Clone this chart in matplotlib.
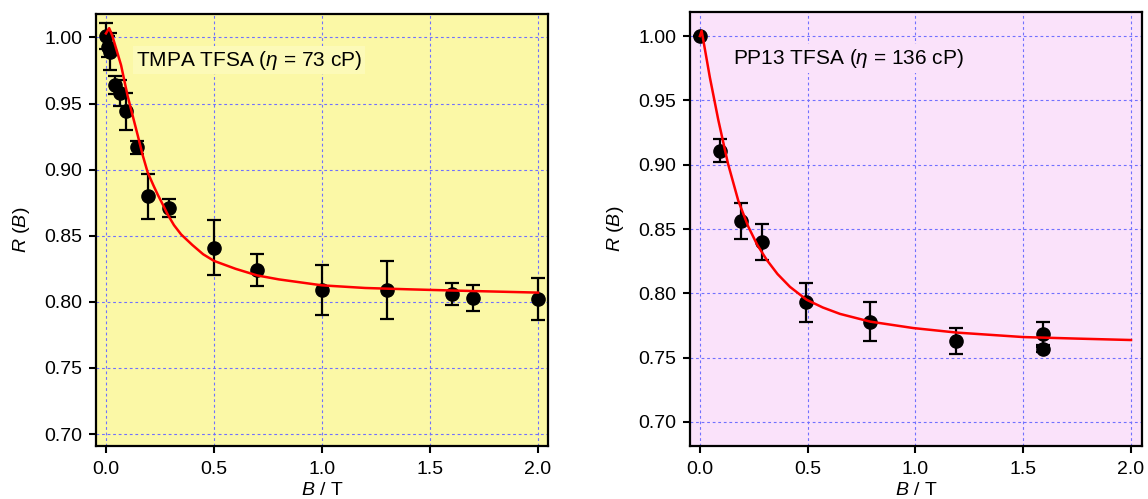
import matplotlib.pyplot as plt
import numpy as np

plt.rcParams['font.family'] = ['Liberation Sans', 'DejaVu Sans']
plt.rcParams['mathtext.fontset'] = 'custom'
plt.rcParams['mathtext.rm'] = 'Liberation Sans'
plt.rcParams['mathtext.it'] = 'Liberation Sans:italic'

# TMPA TFSA data
b_tmpa = [0.0, 0.01, 0.02, 0.04, 0.065, 0.093, 0.145, 0.193, 0.293, 0.5, 0.7, 1.0, 1.3, 1.6, 1.7, 2.0]
r_tmpa = [1.001, 0.993, 0.989, 0.964, 0.958, 0.944, 0.917, 0.880, 0.871, 0.841, 0.824, 0.809, 0.809, 0.806, 0.803, 0.802]
e_tmpa = [0.010, 0.008, 0.014, 0.007, 0.010, 0.014, 0.005, 0.017, 0.007, 0.021, 0.012, 0.019, 0.022, 0.008, 0.010, 0.016]
fit_b_tmpa = [0.0, 0.015, 0.03, 0.05, 0.07, 0.1, 0.125, 0.147, 0.17, 0.193, 0.22, 0.24, 0.265, 0.286, 0.315,
              0.348, 0.4, 0.45, 0.5, 0.6, 0.7, 0.8, 1.0, 1.2, 1.4, 1.6, 1.8, 2.0]
fit_r_tmpa = [1.003, 1.007, 1.001, 0.990, 0.979, 0.956, 0.940, 0.926, 0.911, 0.898, 0.888, 0.881, 0.873, 0.866, 0.858,
              0.851, 0.843, 0.836, 0.831, 0.825, 0.820, 0.817, 0.8125, 0.8105, 0.8095, 0.8086, 0.8078, 0.807]

# PP13 TFSA data
b_pp13 = [0.0, 0.093, 0.189, 0.29, 0.49, 0.79, 1.19, 1.59, 1.59]
r_pp13 = [1.000, 0.911, 0.856, 0.840, 0.793, 0.778, 0.763, 0.768, 0.757]
e_pp13 = [0.0, 0.009, 0.014, 0.014, 0.015, 0.015, 0.010, 0.010, 0.003]
fit_b_pp13 = [0.0, 0.008, 0.025, 0.046, 0.085, 0.13, 0.178, 0.224, 0.265, 0.31, 0.36, 0.418, 0.495, 0.57, 0.65,
              0.79, 0.99, 1.19, 1.5, 1.75, 2.0]
fit_r_pp13 = [1.000, 1.004, 0.988, 0.968, 0.935, 0.901, 0.872, 0.852, 0.838, 0.826, 0.815, 0.805, 0.795, 0.789, 0.784,
              0.778, 0.773, 0.7695, 0.766, 0.7648, 0.7637]

fig = plt.figure(figsize=(11.48, 4.99), dpi=100)
ax1 = fig.add_axes([96 / 1148, 53 / 499, 452 / 1148, 432 / 499])
ax2 = fig.add_axes([690 / 1148, 53.5 / 499, 452 / 1148, 433.5 / 499])

panels = [
    (ax1, b_tmpa, r_tmpa, e_tmpa, fit_b_tmpa, fit_r_tmpa, '#FBF8A6', '#FCFAB8',
     r'TMPA TFSA ($\eta$ = 73 cP)', (-0.046, 2.046), (0.691, 1.0177), 0.088),
    (ax2, b_pp13, r_pp13, e_pp13, fit_b_pp13, fit_r_pp13, '#FAE2FA', '#FAE2FA',
     r'PP13 TFSA ($\eta$ = 136 cP)', (-0.046, 2.051), (0.6817, 1.0187), 0.095),
]

for ax, bx, ry, err, fb, fr, bg, boxc, title, xl, yl, tx in panels:
    ax.set_facecolor(bg)
    ax.grid(True, color='#7070FF', linestyle=(0, (2.5, 2.5)), linewidth=0.8)
    ax.set_axisbelow(True)
    ax.errorbar(bx, ry, yerr=err, fmt='o', color='black', markersize=9.5,
                elinewidth=1.6, capsize=5, capthick=1.6, zorder=3)
    ax.plot(fb, fr, color='red', linewidth=1.8, zorder=4)
    ax.set_xlim(*xl)
    ax.set_ylim(*yl)
    ax.set_xticks(np.arange(0, 2.01, 0.5))
    ax.set_yticks(np.arange(0.70, 1.001, 0.05))
    ax.xaxis.set_major_formatter(plt.FormatStrFormatter('%.1f'))
    ax.yaxis.set_major_formatter(plt.FormatStrFormatter('%.2f'))
    ax.tick_params(direction='out', length=5, width=1.5, labelsize=14, pad=5)
    ax.tick_params(axis='x', pad=6)
    for s in ax.spines.values():
        s.set_linewidth(1.6)
    ax.set_xlabel(r'$B$ / T', fontsize=14, labelpad=3)
    ax.set_ylabel(r'$R$ ($B$)', fontsize=14, labelpad=9)
    ax.text(tx, 0.893, title, transform=ax.transAxes, fontsize=15, va='center', ha='left',
            bbox=dict(facecolor=boxc, edgecolor='none', pad=2), zorder=2)

fig.savefig('out.png', dpi=100)
